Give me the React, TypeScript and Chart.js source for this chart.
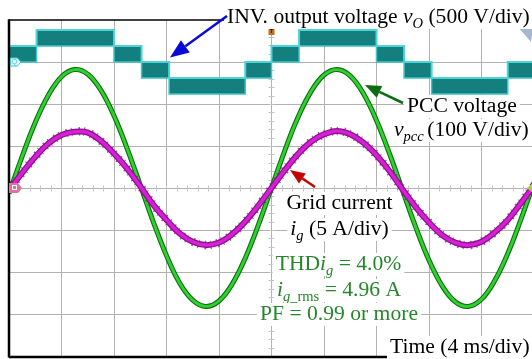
import React, { useEffect, useRef } from 'react';
import { Chart, registerables } from 'chart.js';

Chart.register(...registerables);

// ---- data ----
const timeMs = [0, 1, 2, 3, 4, 5, 6, 7, 8, 9, 10, 11, 12, 13, 14, 15, 16, 17, 18, 19, 20,
  21, 22, 23, 24, 25, 26, 27, 28, 29, 30, 31, 32, 33, 34, 35, 36, 37, 38, 39, 40];
// PCC voltage v_pcc in volts (100 V/div)
const pccVoltage = [-13, 75, 156, 221, 265, 282, 271, 233, 172, 94, 7, -81, -161, -226, -267, -282,
  -269, -229, -167, -88, 0, 88, 167, 229, 269, 282, 267, 225, 161, 81, -7, -94, -172, -233, -271,
  -282, -265, -221, -156, -75, 13];
// Grid current i_g in amperes (5 A/div)
const gridCurrent = [-0.3, 1.8, 3.7, 5.3, 6.3, 6.7, 6.6, 5.6, 4.1, 2.3, 0.2, -2.0, -3.8, -5.4, -6.4,
  -6.8, -6.5, -5.5, -4.0, -2.1, 0, 2.1, 4.0, 5.5, 6.4, 6.8, 6.4, 5.4, 3.9, 2.0, -0.2, -2.3, -4.1,
  -5.6, -6.5, -6.8, -6.4, -5.3, -3.8, -1.8, 0.3];
// Inverter output voltage v_O: PWM bands between two levels (volts, 500 V/div)
const invEdgesMs = [0, 2.1, 8.0, 10.1, 12.2, 18.0, 20.0, 22.1, 28.0, 30.1, 32.2, 38.0, 40];
const invHigh = [190, 380, 190, 0, -190, 0, 190, 380, 190, 0, -190, 0];
const invLow = [0, 190, 0, -190, -380, -190, 0, 190, 0, -190, -380, -190];
// grid ticks
const xGridMs = [4, 8, 12, 16, 20, 24, 28, 32, 36];
const yGridDiv = [-3, -2, -1, 0, 1, 2, 3];

const FONT = '"Liberation Serif", "Times New Roman", serif';

type Run = { t: string; it?: boolean; sub?: boolean };

function runFont(r: Run) {
  return `${r.it ? 'italic ' : ''}${r.sub ? 14.5 : 21.6}px ${FONT}`;
}

function drawRuns(ctx: CanvasRenderingContext2D, runs: Run[], x: number, y: number,
  align: 'left' | 'center', color: string) {
  const widths = runs.map((r) => { ctx.font = runFont(r); return ctx.measureText(r.t).width; });
  const total = widths.reduce((a, b) => a + b, 0);
  let sx = align === 'center' ? x - total / 2 : x;
  ctx.fillStyle = '#ffffff';
  ctx.fillRect(sx - 3, y - 17, total + 6, 23);
  ctx.fillStyle = color;
  ctx.textBaseline = 'alphabetic';
  ctx.textAlign = 'left';
  runs.forEach((r, i) => {
    ctx.font = runFont(r);
    ctx.fillText(r.t, sx, y + (r.sub ? 5 : 0));
    sx += widths[i];
  });
}

function arrow(ctx: CanvasRenderingContext2D, x0: number, y0: number, x1: number, y1: number,
  color: string, len: number, hw: number) {
  const a = Math.atan2(y1 - y0, x1 - x0);
  const bx = x1 - len * Math.cos(a);
  const by = y1 - len * Math.sin(a);
  ctx.strokeStyle = color;
  ctx.fillStyle = color;
  ctx.lineWidth = 2.5;
  ctx.beginPath();
  ctx.moveTo(x0, y0);
  ctx.lineTo(bx, by);
  ctx.stroke();
  ctx.beginPath();
  ctx.moveTo(x1, y1);
  ctx.lineTo(bx + hw * Math.sin(a), by - hw * Math.cos(a));
  ctx.lineTo(bx - hw * Math.sin(a), by + hw * Math.cos(a));
  ctx.closePath();
  ctx.fill();
}

const scopePlugin = {
  id: 'scope',
  beforeDatasetsDraw(chart: any) {
    const { ctx, chartArea: ca, scales } = chart;
    const xs = scales.x;
    const ys = scales.y;
    ctx.save();
    ctx.strokeStyle = '#b2b2b2';
    ctx.lineWidth = 1;
    xGridMs.forEach((t) => {
      const px = Math.round(xs.getPixelForValue(t)) + 0.5;
      ctx.beginPath(); ctx.moveTo(px, ca.top); ctx.lineTo(px, ca.bottom); ctx.stroke();
    });
    yGridDiv.forEach((d) => {
      const py = Math.round(ys.getPixelForValue(d * 100)) + 0.5;
      ctx.beginPath(); ctx.moveTo(ca.left, py); ctx.lineTo(ca.right, py); ctx.stroke();
    });
    // minor ticks on centre lines
    const cy = Math.round(ys.getPixelForValue(0)) + 0.5;
    const cx = Math.round(xs.getPixelForValue(20)) + 0.5;
    ctx.strokeStyle = '#c4c4c4';
    for (let t = 0.8; t < 40; t += 0.8) {
      const px = Math.round(xs.getPixelForValue(t)) + 0.5;
      ctx.beginPath(); ctx.moveTo(px, cy - 3); ctx.lineTo(px, cy + 3); ctx.stroke();
    }
    for (let d = -3.8; d < 4; d += 0.2) {
      const py = Math.round(ys.getPixelForValue(d * 100)) + 0.5;
      ctx.beginPath(); ctx.moveTo(cx - 3, py); ctx.lineTo(cx + 3, py); ctx.stroke();
    }
    ctx.restore();
  },
  afterDraw(chart: any) {
    const { ctx, chartArea: ca } = chart;
    ctx.save();
    // frame
    ctx.strokeStyle = '#000';
    ctx.lineWidth = 1.5;
    ctx.beginPath(); ctx.moveTo(ca.left, ca.top); ctx.lineTo(ca.right, ca.top); ctx.stroke();
    ctx.lineWidth = 2.5;
    ctx.beginPath(); ctx.moveTo(ca.left, ca.top - 0.7); ctx.lineTo(ca.left, ca.bottom + 1.5); ctx.stroke();
    ctx.beginPath(); ctx.moveTo(ca.left, ca.bottom + 1); ctx.lineTo(ca.right, ca.bottom + 1); ctx.stroke();

    // channel markers
    const ys = chart.scales.y;
    const y0 = ys.getPixelForValue(0);
    const yv = chart.scales.yV.getPixelForValue(0);
    ctx.fillStyle = '#e4f9fb';
    ctx.strokeStyle = '#3cc6d6';
    ctx.lineWidth = 1;
    ctx.beginPath();
    ctx.moveTo(10.5, yv - 4); ctx.lineTo(17.5, yv - 4); ctx.lineTo(21, yv); ctx.lineTo(17.5, yv + 4);
    ctx.lineTo(10.5, yv + 4); ctx.closePath(); ctx.fill(); ctx.stroke();
    ctx.fillStyle = '#3cc6d6';
    ctx.font = `7px sans-serif`;
    ctx.textAlign = 'center';
    ctx.textBaseline = 'middle';
    ctx.fillText('Q', 14.5, yv + 0.5);

    ctx.fillStyle = '#e2709c';
    ctx.beginPath();
    ctx.moveTo(9, y0 - 5); ctx.lineTo(18, y0 - 5); ctx.lineTo(22, y0); ctx.lineTo(18, y0 + 5);
    ctx.lineTo(9, y0 + 5); ctx.closePath(); ctx.fill();
    ctx.strokeStyle = '#ffffff';
    ctx.strokeRect(12.5, y0 - 2.5, 4, 4);

    // trigger marker
    ctx.fillStyle = '#c6701c';
    ctx.fillRect(268.5, 27, 6, 8);
    ctx.fillStyle = '#3a1a00';
    ctx.font = `bold 6px sans-serif`;
    ctx.fillText('T', 271.5, 31);

    // top-right triangle marker
    ctx.fillStyle = '#a6b6cf';
    ctx.beginPath(); ctx.moveTo(518, 27); ctx.lineTo(533, 27); ctx.lineTo(531, 42); ctx.closePath(); ctx.fill();
    // right edge marker for current
    ctx.fillStyle = '#a6d23c';
    ctx.beginPath(); ctx.moveTo(533, y0 - 5); ctx.lineTo(527, y0); ctx.lineTo(533, y0 + 5); ctx.closePath(); ctx.fill();

    // labels
    drawRuns(ctx, [{ t: 'INV. output voltage ' }, { t: 'v', it: true }, { t: 'O', it: true, sub: true },
      { t: ' (500 V/div)' }], 227, 23, 'left', '#000');
    drawRuns(ctx, [{ t: 'PCC voltage' }], 407, 112, 'left', '#000');
    drawRuns(ctx, [{ t: 'v', it: true }, { t: 'pcc ', it: true, sub: true }, { t: '(100 V/div)' }],
      394, 136, 'left', '#000');
    drawRuns(ctx, [{ t: 'Grid current' }], 339.5, 209, 'center', '#000');
    drawRuns(ctx, [{ t: 'i', it: true }, { t: 'g', it: true, sub: true }, { t: ' (5 A/div)' }],
      339.5, 235, 'center', '#000');
    const g = '#25862a';
    drawRuns(ctx, [{ t: 'THD' }, { t: 'i', it: true }, { t: 'g', it: true, sub: true }, { t: ' = 4.0%' }],
      338.5, 270, 'center', g);
    drawRuns(ctx, [{ t: 'i', it: true }, { t: 'g', it: true, sub: true }, { t: '_rms', sub: true },
      { t: ' = 4.96 A' }], 339, 296, 'center', g);
    drawRuns(ctx, [{ t: 'PF = 0.99 or more' }], 339, 320, 'center', g);
    drawRuns(ctx, [{ t: 'Time (4 ms/div)' }], 390, 353, 'left', '#000');

    // arrows
    arrow(ctx, 227, 16, 170, 57.5, '#0a0ad8', 19, 7.5);
    arrow(ctx, 403, 103, 365, 85, '#0d6b12', 16, 6.5);
    arrow(ctx, 315, 187, 290, 170, '#c40000', 15, 6);
    ctx.restore();
  },
};

function bandPoints(vals: number[]) {
  const pts: { x: number; y: number }[] = [];
  vals.forEach((v, i) => {
    pts.push({ x: invEdgesMs[i], y: v });
    pts.push({ x: invEdgesMs[i + 1], y: v });
  });
  return pts;
}

export default function App() {
  const ref = useRef<HTMLCanvasElement | null>(null);
  useEffect(() => {
    if (!ref.current) return;
    const green = timeMs.map((t, i) => ({ x: t, y: pccVoltage[i] }));
    const mag = timeMs.map((t, i) => ({ x: t, y: gridCurrent[i] }));
    const line = { pointRadius: 0, tension: 0.4, fill: false };
    const chart = new Chart(ref.current, {
      type: 'line',
      data: {
        datasets: [
          { ...line, data: bandPoints(invHigh), yAxisID: 'yV', borderColor: '#4fd3d6', borderWidth: 2, tension: 0, order: 1 },
          { ...line, data: bandPoints(invLow), yAxisID: 'yV', borderColor: '#3fc4c8', borderWidth: 1.5, tension: 0,
            fill: { target: 0 }, backgroundColor: '#137f7f', order: 2 },
          { ...line, data: green, yAxisID: 'y', borderColor: '#0f6e10', borderWidth: 5, order: 7 },
          { ...line, data: green, yAxisID: 'y', borderColor: '#2fd02f', borderWidth: 2.8, order: 6 },
          { ...line, data: mag, yAxisID: 'yI', borderColor: 'rgba(120,16,120,0.7)', borderWidth: 8.5, borderDash: [1, 6, 1.5, 4], order: 5 },
          { ...line, data: mag, yAxisID: 'yI', borderColor: '#8a128a', borderWidth: 6, order: 4 },
          { ...line, data: mag, yAxisID: 'yI', borderColor: '#d81fd8', borderWidth: 3.5, order: 3 },
        ],
      },
      options: {
        animation: false,
        responsive: false,
        devicePixelRatio: 1,
        layout: { padding: { left: 9, top: 20, right: 0, bottom: 3 } },
        plugins: { legend: { display: false }, tooltip: { enabled: false } },
        scales: {
          x: { type: 'linear', display: false, min: 0, max: 39.848 },
          y: { type: 'linear', display: false, min: -400, max: 400 },
          yI: { type: 'linear', display: false, min: -20, max: 20 },
          yV: { type: 'linear', display: false, min: -3500, max: 500 },
        },
      },
      plugins: [scopePlugin],
    });
    return () => chart.destroy();
  }, []);
  return (
    <div style={{ position: 'fixed', left: 0, top: 0, width: 532, height: 359, background: '#fff' }}>
      <canvas ref={ref} width={532} height={359} style={{ width: 532, height: 359, display: 'block' }} />
    </div>
  );
}
